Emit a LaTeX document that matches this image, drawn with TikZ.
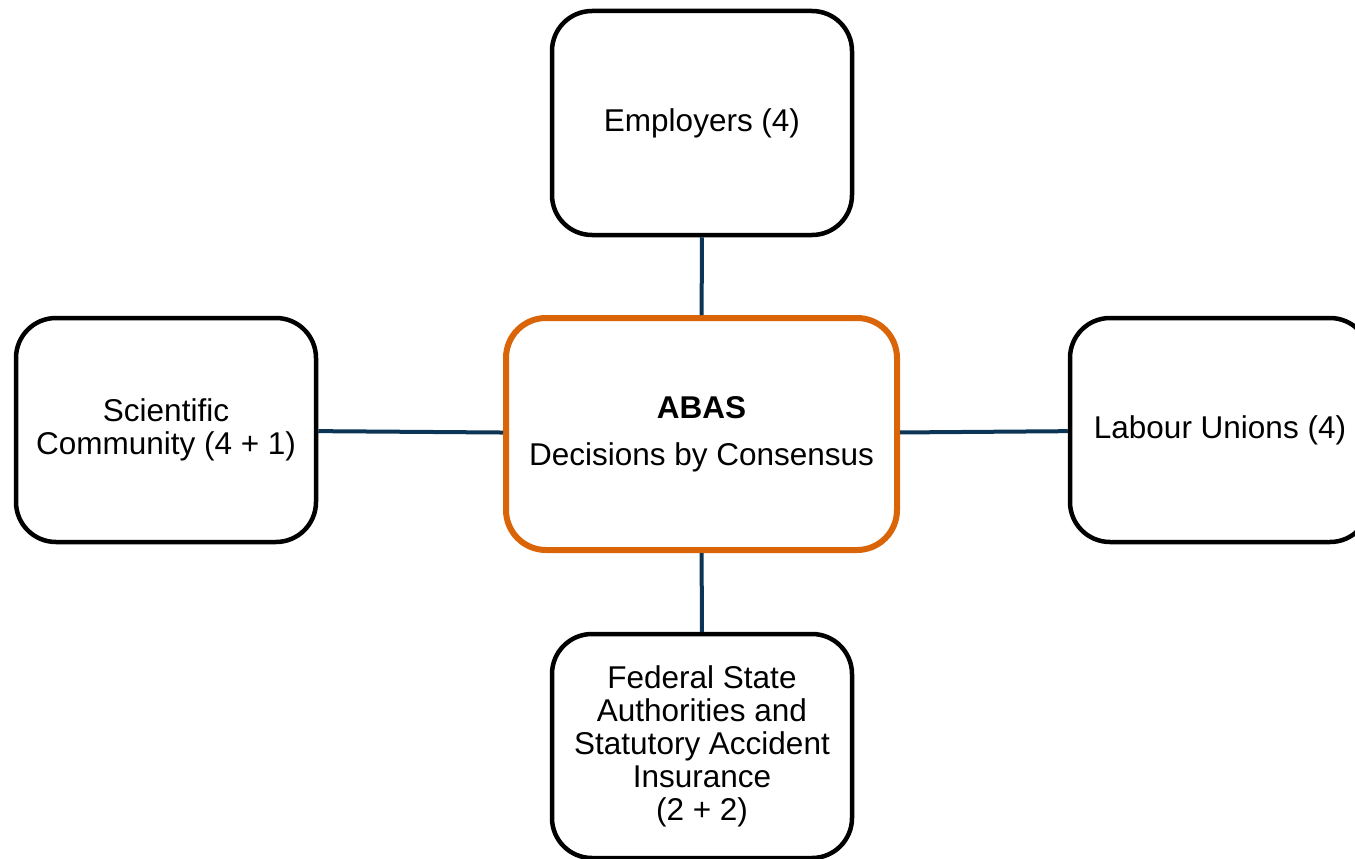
\documentclass[tikz,border=0pt]{standalone}
\usepackage{fontspec}
\setmainfont{Liberation Sans}
\definecolor{abasorange}{RGB}{217,101,8}
\definecolor{linknavy}{RGB}{12,52,84}
\tikzset{
  member/.style={draw=black,line width=4.5pt,rounded corners=40pt,fill=white,
    minimum width=300pt,minimum height=224pt,align=center,
    font=\fontsize{31.5pt}{33pt}\selectfont},
  council/.style={member,draw=abasorange,line width=6pt,
    minimum width=391pt,minimum height=232pt},
  link/.style={draw=linknavy,line width=4pt}
}
\begin{document}
\begin{tikzpicture}[x=1pt,y=-1pt]
    \useasboundingbox (0,0) rectangle (1355,859);

    \node[council] (abas) at (701.5,434)
      {\textbf{ABAS}\\[14pt]Decisions by Consensus};

    \node[member] (emp) at (702,123) {Employers (4)};
    \node[member] (sci) at (166,430) {Scientific\\Community (4 + 1)};
    \node[member] (lab) at (1220,430) {Labour Unions (4)};
    \node[member] (fed) at (702,746)
      {Federal State\\Authorities and\\Statutory Accident\\Insurance\\(2 + 2)};

    % connectors
    \draw[link] (emp) -- (abas);
    \draw[link] (sci) -- (abas);
    \draw[link] (abas) -- (lab);
    \draw[link] (abas) -- (fed);

  \end{tikzpicture}
\end{document}
